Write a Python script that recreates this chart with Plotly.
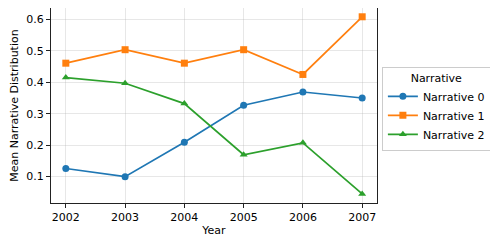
import plotly.graph_objects as go

years = [2002, 2003, 2004, 2005, 2006, 2007]
narrative_0 = [0.125, 0.099, 0.209, 0.327, 0.369, 0.350]
narrative_1 = [0.461, 0.504, 0.461, 0.504, 0.425, 0.609]
narrative_2 = [0.415, 0.397, 0.332, 0.169, 0.207, 0.044]
series_names = ["Narrative 0", "Narrative 1", "Narrative 2"]
colors = ["#1f77b4", "#ff7f0e", "#2ca02c"]
symbols = ["circle", "square", "triangle-up"]

fig = go.Figure()
for name, vals, c, s in zip(series_names, [narrative_0, narrative_1, narrative_2], colors, symbols):
    fig.add_trace(go.Scatter(
        x=years, y=vals, name=name, mode="lines+markers",
        line=dict(color=c, width=1.7),
        marker=dict(symbol=s, size=7, color=c),
    ))

font = "DejaVu Sans, sans-serif"
axis_common = dict(
    showline=True, linecolor="#222222", linewidth=1.1, mirror=True,
    ticks="outside", ticklen=4, tickwidth=1, tickcolor="#222222",
    showgrid=True, gridcolor="rgba(176,176,176,0.3)", gridwidth=1,
    zeroline=False, tickfont=dict(family=font, size=11, color="black"),
    automargin=False,
)
# page body has an 8px default margin, so the figure is 8px smaller on each side
fig.update_layout(
    width=490, height=239,
    margin=dict(l=43, r=121, t=0, b=44),
    plot_bgcolor="white", paper_bgcolor="white",
    font=dict(family=font, size=11, color="black"),
    xaxis=dict(range=[2001.75, 2007.25], tickvals=years,
               title=dict(text="Year", font=dict(size=11), standoff=3), **axis_common),
    yaxis=dict(range=[0.015, 0.637], tickvals=[0.1, 0.2, 0.3, 0.4, 0.5, 0.6],
               ticktext=["0.1", "0.2", "0.3", "0.4", "0.5", "0.6"],
               title=dict(text="Mean Narrative Distribution", font=dict(size=11), standoff=7), **axis_common),
    legend=dict(
        x=1.015, y=0.70, xanchor="left", yanchor="top",
        bordercolor="#cccccc", borderwidth=1, bgcolor="white",
        title=dict(text="Narrative", side="top center", font=dict(size=11)),
        font=dict(size=11), itemwidth=30, tracegroupgap=0,
    ),
)
fig.write_html("out.html")
